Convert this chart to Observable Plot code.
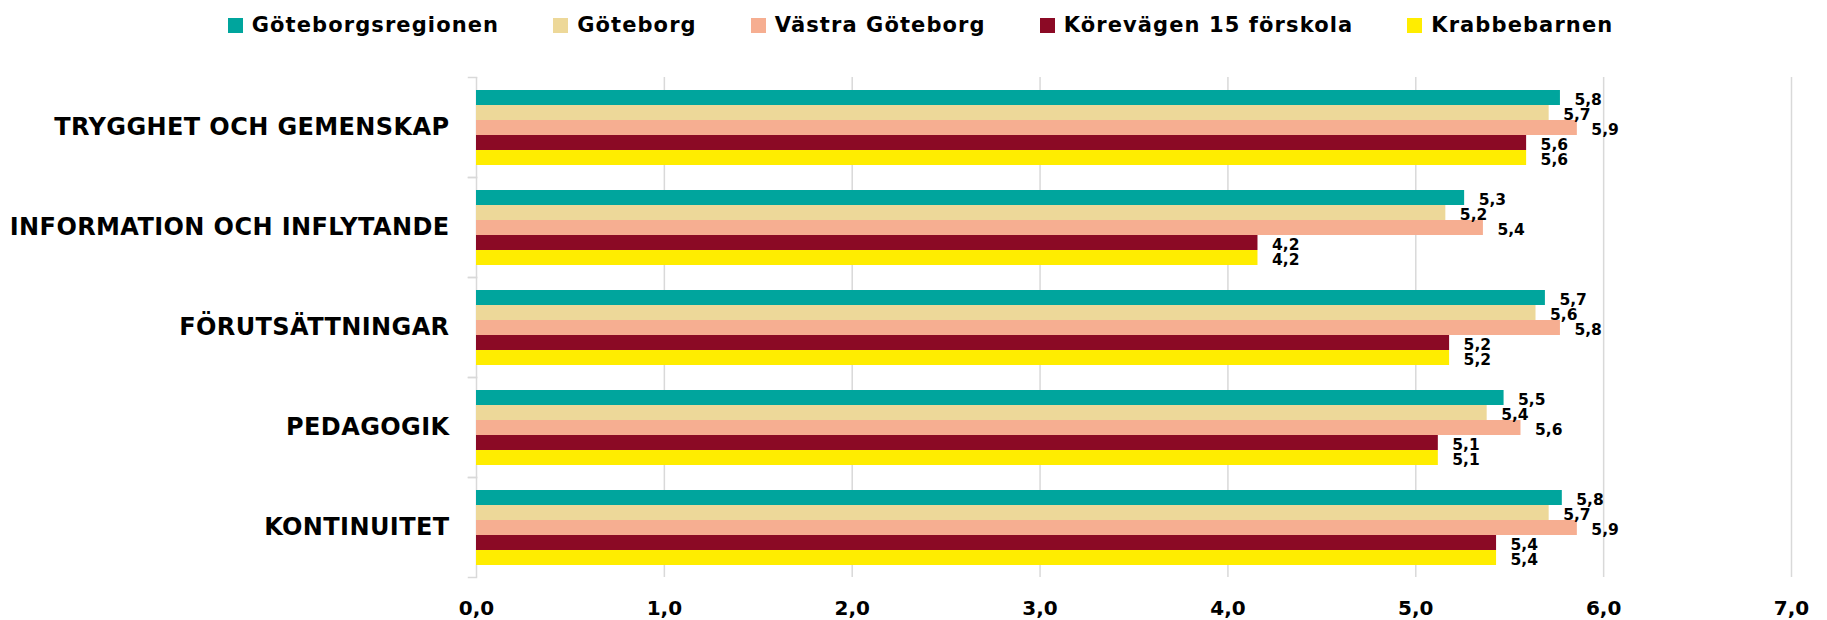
<!DOCTYPE html>
<html>
<head>
<meta charset="utf-8">
<script src="https://cdn.jsdelivr.net/npm/d3@7"></script>
<script src="https://cdn.jsdelivr.net/npm/@observablehq/plot@0.6"></script>
<style>
  html, body { margin: 0; padding: 0; background: #fff; }
  #legend {
    height: 50px; display: flex; align-items: center; justify-content: center;
    padding-left: 14px; box-sizing: border-box; width: 1827px;
    font-family: "DejaVu Sans", sans-serif; font-weight: bold; font-size: 21px;
    letter-spacing: 1.1px; color: #000;
  }
  .item { display: flex; align-items: center; margin: 0 27px; }
  .sw { width: 15px; height: 15px; margin-right: 9px; }
  g[aria-label="fy-axis tick label"] text { letter-spacing: 0.4px; }
</style>
</head>
<body>
<div id="legend"></div>
<div id="chart"></div>
<script>
const categories = ["TRYGGHET OCH GEMENSKAP", "INFORMATION OCH INFLYTANDE", "FÖRUTSÄTTNINGAR", "PEDAGOGIK", "KONTINUITET"];
const series = ["Göteborgsregionen", "Göteborg", "Västra Göteborg", "Körevägen 15 förskola", "Krabbebarnen"];
const colors = ["#00A59D", "#EDD899", "#F6AE91", "#8B0A25", "#FFED00"];
const goteborgsregionen = [5.77, 5.26, 5.69, 5.47, 5.78];
const goteborg = [5.71, 5.16, 5.64, 5.38, 5.71];
const vastraGoteborg = [5.86, 5.36, 5.77, 5.56, 5.86];
const korevagen15 = [5.59, 4.16, 5.18, 5.12, 5.43];
const krabbebarnen = [5.59, 4.16, 5.18, 5.12, 5.43];
const xTicks = [0, 1, 2, 3, 4, 5, 6, 7];

const seriesValues = [goteborgsregionen, goteborg, vastraGoteborg, korevagen15, krabbebarnen];
const data = [];
categories.forEach((c, i) => {
  series.forEach((s, j) => data.push({category: c, series: s, value: seriesValues[j][i]}));
});
const fmt = d => d.toFixed(1).replace(".", ",");

// legend
const legend = document.getElementById("legend");
series.forEach((s, j) => {
  const it = document.createElement("div");
  it.className = "item";
  const sw = document.createElement("div");
  sw.className = "sw";
  sw.style.background = colors[j];
  const t = document.createElement("span");
  t.textContent = s;
  it.appendChild(sw); it.appendChild(t);
  legend.appendChild(it);
});

const tickStyle = {stroke: "#d9d9d9", strokeWidth: 1.5, insetLeft: -8, insetRight: 1315};

const chart = Plot.plot({
  width: 1827,
  height: 570,
  marginTop: 25,
  marginBottom: 42,
  marginLeft: 476,
  marginRight: 36,
  style: {fontFamily: "DejaVu Sans, sans-serif", color: "#000", background: "#fff"},
  x: {domain: [0, 7]},
  y: {domain: series, paddingInner: 0, paddingOuter: 0.74, axis: null},
  fy: {domain: categories, padding: 0},
  color: {domain: series, range: colors},
  marks: [
    Plot.gridX(xTicks, {stroke: "#d9d9d9", strokeOpacity: 1, strokeWidth: 1.5}),
    Plot.frame({anchor: "top", ...tickStyle}),
    Plot.frame({anchor: "bottom", ...tickStyle}),
    Plot.barX(data, {x: "value", y: "series", fy: "category", fill: "series"}),
    Plot.text(data, {
      x: "value", y: "series", fy: "category", text: d => fmt(d.value),
      dx: 14, dy: 2, textAnchor: "start", fontSize: 15.5, fontWeight: "bold", fill: "#000"
    }),
    Plot.axisX({ticks: xTicks, tickSize: 0, tickPadding: 23, tickFormat: fmt, label: null,
      fontSize: 20, fontWeight: "bold", fill: "#000"}),
    Plot.axisFy({anchor: "left", tickSize: 0, tickPadding: 27, label: null, fontSize: 24, fontWeight: "bold", fill: "#000"})
  ]
});
document.getElementById("chart").appendChild(chart);
</script>
</body>
</html>
